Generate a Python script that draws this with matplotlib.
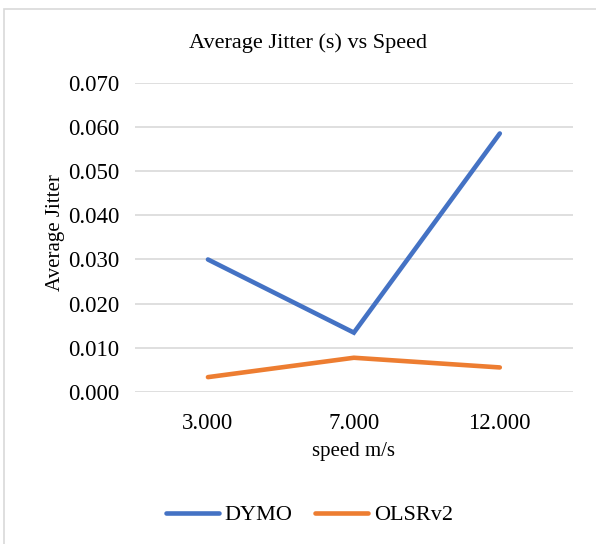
import matplotlib

matplotlib.use("Agg")
import matplotlib.pyplot as plt
from matplotlib.patches import Rectangle

speeds = ["3.000", "7.000", "12.000"]
dymo = [0.0300, 0.0134, 0.0586]
olsrv2 = [0.0033, 0.0077, 0.0055]
y_ticks = [0.0, 0.01, 0.02, 0.03, 0.04, 0.05, 0.06, 0.07]

plt.rcParams["font.family"] = ["Liberation Serif", "DejaVu Serif"]

fig = plt.figure(figsize=(5.96, 5.44), dpi=100)
fig.patches.append(
    Rectangle(
        (4 / 596, -0.05), 1.1, 1 - 9 / 544 + 0.05,
        transform=fig.transFigure, fill=False, edgecolor="#d9d9d9", linewidth=1.2,
    )
)

ax = fig.add_axes([0.2265, 0.280, 0.7345, 0.567])
x = list(range(len(speeds)))
ax.plot(x, dymo, color="#4472C4", linewidth=3.3, solid_capstyle="round",
        solid_joinstyle="miter", label="DYMO", zorder=3)
ax.plot(x, olsrv2, color="#ED7D31", linewidth=3.3, solid_capstyle="round",
        solid_joinstyle="miter", label="OLSRv2", zorder=3)

ax.set_xlim(-0.5, 2.5)
ax.set_ylim(0, 0.07)
ax.set_xticks(x)
ax.set_xticklabels(speeds)
ax.set_yticks(y_ticks)
ax.set_yticklabels([f"{v:.3f}" for v in y_ticks])
ax.tick_params(axis="both", length=0, labelsize=16.5)
ax.tick_params(axis="x", pad=15)
ax.tick_params(axis="y", pad=11)
ax.grid(axis="y", color="#d9d9d9", linewidth=1.2)
ax.set_axisbelow(True)
for s in ax.spines.values():
    s.set_visible(False)

ax.set_xlabel("speed m/s", fontsize=15, labelpad=6)
ax.set_ylabel("Average Jitter", fontsize=15)
ax.yaxis.set_label_coords(-0.16, 0.517)
fig.text(0.516, 0.921, "Average Jitter (s) vs Speed", ha="center", va="center", fontsize=16)

fig.legend(
    loc="center", bbox_to_anchor=(0.519, 0.053), ncol=2, frameon=False,
    fontsize=16, handlelength=2.4, columnspacing=1.0, handletextpad=0.25,
)

fig.savefig("out.png", dpi=100)
